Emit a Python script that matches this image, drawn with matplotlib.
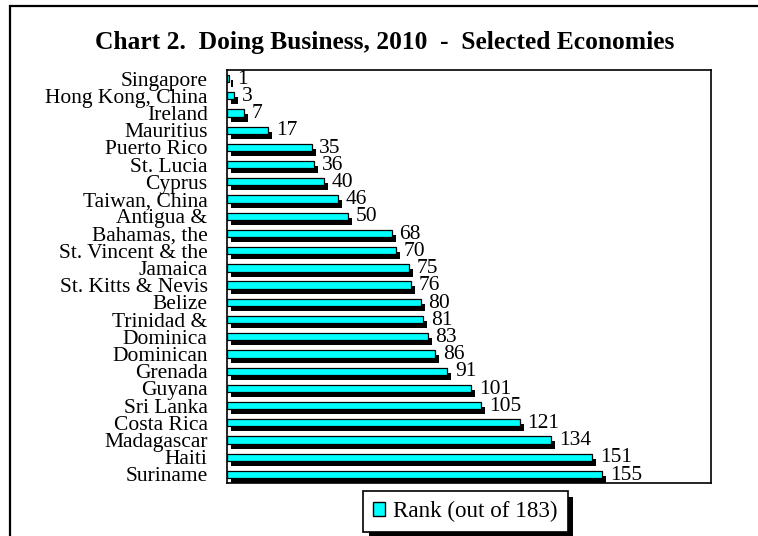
import matplotlib
matplotlib.use('Agg')
import matplotlib.pyplot as plt
import matplotlib.patheffects as pe
from matplotlib.patches import Rectangle

plt.rcParams['font.family'] = 'Liberation Serif'

# Doing Business 2010 ranks for the selected economies
economies = ['Singapore', 'Hong Kong, China', 'Ireland', 'Mauritius', 'Puerto Rico',
             'St. Lucia', 'Cyprus', 'Taiwan, China', 'Antigua &', 'Bahamas, the',
             'St. Vincent & the', 'Jamaica', 'St. Kitts & Nevis', 'Belize', 'Trinidad &',
             'Dominica', 'Dominican', 'Grenada', 'Guyana', 'Sri Lanka', 'Costa Rica',
             'Madagascar', 'Haiti', 'Suriname']
rank = [1, 3, 7, 17, 35, 36, 40, 46, 50, 68, 70, 75, 76, 80, 81, 83, 86, 91,
        101, 105, 121, 134, 151, 155]
series_name = 'Rank (out of 183)'
title = 'Chart 2.  Doing Business, 2010  -  Selected Economies'

W, H = 758, 536
fig = plt.figure(figsize=(W / 100, H / 100), dpi=100)

# outer frame (only top and left edges fall inside the image)
fig.patches.append(Rectangle((10 / W, -0.1), 1.2, 1 - 6 / H + 0.1,
                             transform=fig.transFigure, fill=False,
                             edgecolor='black', linewidth=1.6, zorder=0))

ax = fig.add_axes([227 / W, 1 - 483 / H, (711 - 227) / W, (483 - 70) / H])

shadow = [pe.SimplePatchShadow(offset=(2.9, -3.6), shadow_rgbFace='black', alpha=1.0),
          pe.Normal()]

ypos = list(range(len(economies)))
bars = ax.barh(ypos, rank, height=0.42, color='#00FFFF', edgecolor='black',
               linewidth=0.9, zorder=3)
for b in bars:
    b.set_path_effects(shadow)

for y, v in zip(ypos, rank):
    ax.annotate(str(v), xy=(v, y), xytext=(5.5, -0.5), textcoords='offset points',
                ha='left', va='center', fontsize=15.5, zorder=4)

ax.set_xlim(0, 200)
ax.set_ylim(len(economies) - 0.5, -0.5)
ax.set_xticks([])
ax.set_yticks(ypos)
ax.set_yticklabels(economies, fontsize=15.5)
ax.tick_params(axis='y', length=0, pad=14)
for s in ax.spines.values():
    s.set_linewidth(1.2)

leg_handle = Rectangle((0, 0), 1, 1, facecolor='#00FFFF', edgecolor='black', linewidth=1)
leg = fig.legend([leg_handle], [series_name], loc='center',
                 bbox_to_anchor=(465.5 / W, 1 - 511.5 / H), fontsize=16.7,
                 fancybox=False, frameon=True, handlelength=0.52, handleheight=0.52,
                 handletextpad=0.35, borderpad=0.42, borderaxespad=0)
frame = leg.get_frame()
frame.set_edgecolor('black')
frame.set_linewidth(1.2)
frame.set_alpha(1)
frame.set_path_effects([pe.SimplePatchShadow(offset=(4, -4), shadow_rgbFace='black',
                                             alpha=1.0), pe.Normal()])

fig.text(385 / W, 1 - 49 / H, title, ha='center', va='baseline',
         fontsize=18.4, fontweight='bold')

fig.savefig('out.png', dpi=100)
